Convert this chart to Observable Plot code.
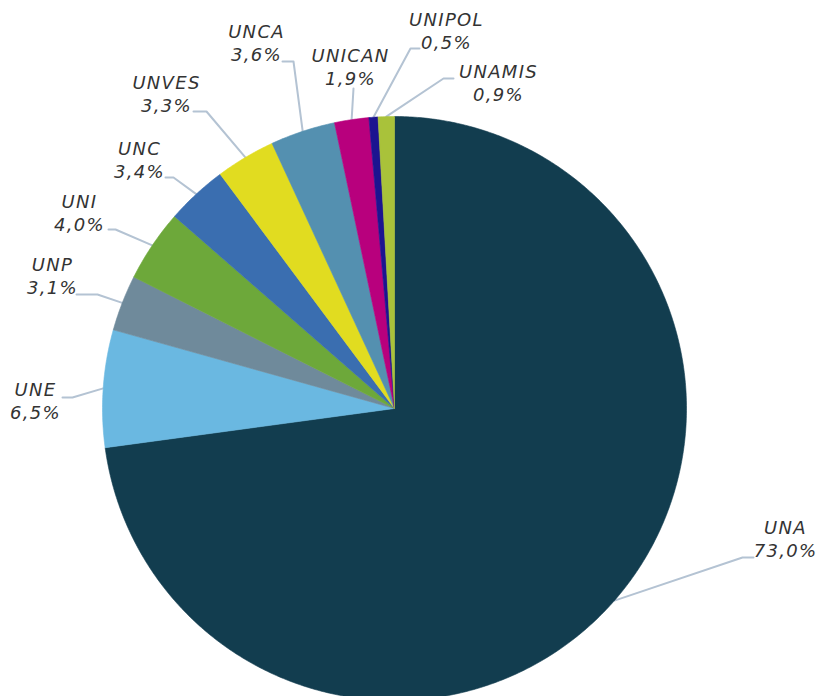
<!DOCTYPE html>
<html>
<head>
<meta charset="utf-8">
<script src="https://cdn.jsdelivr.net/npm/d3@7"></script>
<script src="https://cdn.jsdelivr.net/npm/@observablehq/plot@0.6"></script>
<style>
  html, body { margin: 0; padding: 0; background: #fff; }
  #chart svg { display: block; }
  #chart svg text { letter-spacing: 1.3px; }
</style>
</head>
<body>
<div id="chart"></div>
<script>
// ---- data ----
const categories = ["UNA", "UNE", "UNP", "UNI", "UNC", "UNVES", "UNCA", "UNICAN", "UNIPOL", "UNAMIS"];
const shares = [73.0, 6.5, 3.1, 4.0, 3.4, 3.3, 3.6, 1.9, 0.5, 0.9];

// ---- style ----
const palette = ["#123D4F", "#6AB8E1", "#6F8A9B", "#6DA83A", "#3A6EB0", "#E1DC20", "#5490B0", "#B8007D", "#1C1490", "#A9C23A"];

// ---- layout (pixels) ----
const W = 818, H = 696;
const cx = 394, cy = 408, R = 292;
const lineGap = 23;
// text block centre (tx, ty), leader start near text (sx, sy), elbow x (ex)
const labelLayout = {
  UNA:    {tx: 785, ty: 539,  sx: 753, sy: 557, ex: 742},
  UNE:    {tx: 35,  ty: 401.5, sx: 62, sy: 397, ex: 72},
  UNP:    {tx: 52,  ty: 276.5, sx: 76, sy: 294, ex: 97},
  UNI:    {tx: 79,  ty: 213.5, sx: 108, sy: 229, ex: 115},
  UNC:    {tx: 139, ty: 160,  sx: 165, sy: 177, ex: 173},
  UNVES:  {tx: 166, ty: 94,   sx: 193, sy: 111, ex: 206},
  UNCA:   {tx: 256, ty: 43,   sx: 282, sy: 61,  ex: 293},
  UNICAN: {tx: 350, ty: 67,   sx: 353, sy: 88,  ex: 353},
  UNIPOL: {tx: 446, ty: 31.5, sx: 419, sy: 48,  ex: 410},
  UNAMIS: {tx: 498, ty: 83,   sx: 453, sy: 78,  ex: 443}
};

const fmt = v => d3.format(".1f")(v).replace(".", ",") + "%";

// pie angles computed from the data
const arcs = d3.pie().sort(null).value((d, i) => shares[i])(categories);

// slice polygons (center -> arc -> center)
const slicePts = [];
arcs.forEach((a, i) => {
  const name = categories[i];
  slicePts.push({name, x: cx, y: cy});
  const n = Math.max(4, Math.ceil((a.endAngle - a.startAngle) / (Math.PI / 360)));
  for (let k = 0; k <= n; k++) {
    const t = a.startAngle + (a.endAngle - a.startAngle) * k / n;
    slicePts.push({name, x: cx + R * Math.sin(t), y: cy - R * Math.cos(t)});
  }
  slicePts.push({name, x: cx, y: cy});
});

// leader lines and labels
const leaderPts = [];
const labels = [];
arcs.forEach((a, i) => {
  const name = categories[i];
  const L = labelLayout[name];
  const mid = (a.startAngle + a.endAngle) / 2;
  leaderPts.push({name, x: L.sx, y: L.sy});
  leaderPts.push({name, x: L.ex, y: L.sy});
  leaderPts.push({name, x: cx + R * Math.sin(mid), y: cy - R * Math.cos(mid)});
  labels.push({name, x: L.tx, y1: L.ty - lineGap / 2, y2: L.ty + lineGap / 2, pct: fmt(shares[i])});
});

const textOpts = {
  fontSize: 18, lineAnchor: "middle", textAnchor: "middle",
  fill: "#333333", fontStyle: "oblique", fontFamily: "'DejaVu Sans', sans-serif"
};

const chart = Plot.plot({
  width: W,
  height: H,
  margin: 0,
  x: {domain: [0, W], range: [0, W], axis: null},
  y: {domain: [0, H], range: [0, H], axis: null},
  color: {domain: categories, range: palette, type: "ordinal"},
  style: {background: "#fff"},
  marks: [
    Plot.line(leaderPts, {x: "x", y: "y", z: "name", stroke: "#B4C3D3", strokeWidth: 2, curve: "linear"}),
    Plot.line(slicePts, {x: "x", y: "y", z: "name", fill: "name", stroke: "name", strokeWidth: 0.6, curve: "linear"}),
    Plot.text(labels, {x: "x", y: "y1", text: "name", ...textOpts}),
    Plot.text(labels, {x: "x", y: "y2", text: "pct", ...textOpts})
  ]
});
document.getElementById("chart").appendChild(chart);
</script>
</body>
</html>
